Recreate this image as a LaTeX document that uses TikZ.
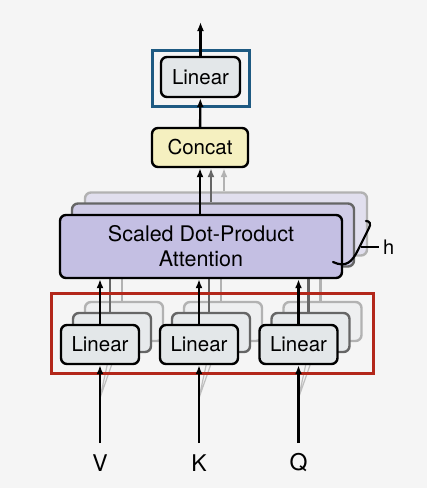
\documentclass[tikz,border=0pt]{standalone}
\usepackage{fontspec}
\setmainfont{TeX Gyre Heros}
\usetikzlibrary{positioning,arrows.meta}
\definecolor{bgcol}{HTML}{F5F5F5}
\definecolor{linfill}{HTML}{E3E7E9}
\definecolor{attfill}{HTML}{C4BFE3}
\definecolor{catfill}{HTML}{F5F0C0}
\definecolor{outblue}{HTML}{1E5A82}
\definecolor{inred}{HTML}{B3271A}

\begin{document}
\begin{tikzpicture}[x=1pt,y=-1pt,
  box/.style={draw=black,line width=2.4pt,rounded corners=6pt,inner sep=0pt,
    font=\fontsize{20.5}{24}\selectfont,align=center},
  linbox/.style={box,fill=linfill,minimum width=78pt,minimum height=39pt},
  attbox/.style={box,fill=attfill,minimum width=282pt,minimum height=63pt,
    font=\fontsize{21.5}{25}\selectfont},
  ghostmid/.style={draw=black!60,fill=#1!75!bgcol},
  ghostback/.style={draw=black!30,fill=#1!40!bgcol},
  arr/.style={line width=2.4pt,-{Latex[length=9pt,width=7pt]}},
  ghostline/.style={line width=2.4pt,draw=#1,-{Latex[length=9pt,width=7pt]}}]
\useasboundingbox[fill=bgcol] (0,0) rectangle (427,488);

% attention heads behind
\node[attbox,ghostback=attfill] (attC) at (226,224) {};
\node[attbox,ghostmid=attfill] (attB) at (213,235) {};

% linear layers behind, per input
\foreach \x/\n in {100/v,199/k,298.5/q}{
  \draw[line width=1.2pt,black!25] (\x,398) -- (\x+10,352) (\x,398) -- (\x+20,341);
  \node[linbox,ghostback=linfill] (lin\n C) at (\x+24,321.5) {};
  \draw[ghostline=black!30] ([xshift=-2pt]lin\n C.north) -- (\x+22,255);
  \node[linbox,ghostmid=linfill] (lin\n B) at (\x+12,332.5) {};
  \draw[ghostline=black!60] ([xshift=-2pt]lin\n B.north) -- (\x+10,265);
}

% front head
\node[attbox] (att) at (201,246.5) {Scaled Dot-Product\\Attention};
\draw[line width=2.2pt,line cap=round] (333,262) .. controls (346,268) and (352,262) .. (358,250)
  -- (369,228) .. controls (371,224) and (370,221) .. (366,221);
\draw[line width=1.6pt] (361,247) -- (379,247) node[right,font=\fontsize{20}{24}\selectfont] (hlab) {h};

% front linear layers and inputs
\draw[line width=3pt,inred] (51,293) rectangle (373,373);
\foreach \x/\n/\lab in {100/v/V,199/k/K,298.5/q/Q}{
  \node[linbox] (lin\n) at (\x,344.5) {Linear};
  \node[font=\fontsize{23}{27}\selectfont] (in\n) at (\x,463) {\lab};
  \coordinate (src\n) at (\x,443);
  \draw[arr] (src\n) -- (lin\n);
  \draw[arr] (lin\n) -- (lin\n|-att.south);
}

% concat and output
\node[box,fill=catfill,minimum width=96pt,minimum height=39pt] (concat) at (200,147.5) {Concat};
\draw[ghostline=black!30] ([xshift=-2pt]attC.north) -- ([xshift=24pt]concat.south);
\draw[ghostline=black!60] ([xshift=-2pt]attB.north) -- ([xshift=11pt]concat.south);
\draw[arr] ([xshift=-1pt]att.north) -- (concat);
\node[linbox,minimum width=79pt,minimum height=40pt] (out) at (200.5,77) {Linear};
\draw[line width=3pt,outblue] (152,50) rectangle (249,106);
\draw[arr] (concat) -- (out);
\coordinate (top) at (200.5,22);
\draw[arr] (out) -- (top);
\end{tikzpicture}
\end{document}
